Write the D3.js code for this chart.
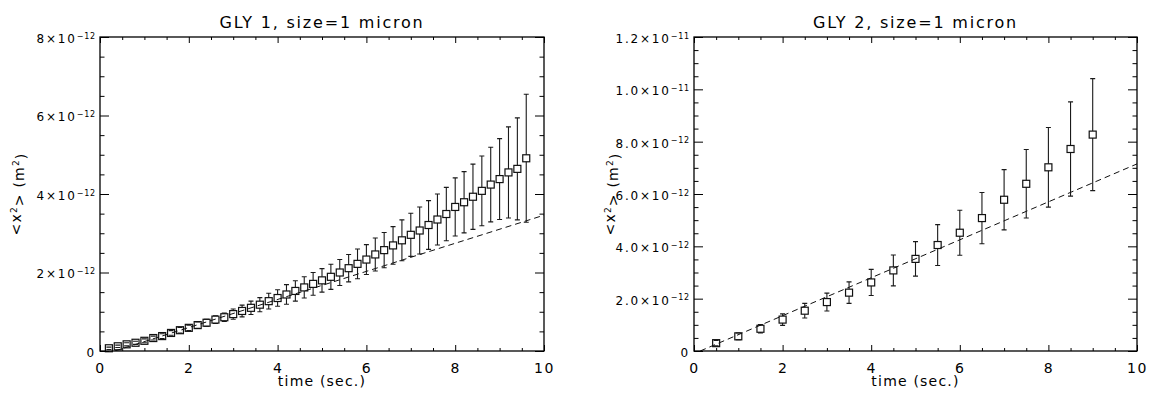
<!DOCTYPE html>
<html>
<head>
<meta charset="utf-8">
<script src="https://cdnjs.cloudflare.com/ajax/libs/d3/7.8.5/d3.min.js"></script>
<style>
  body { margin: 0; background: #fff; }
  text { font-family: "DejaVu Sans", sans-serif; fill: #000; }
</style>
</head>
<body>
<svg id="chart" width="1149" height="397"></svg>
<script>
// values of <x^2> are in units of 1e-12 m^2
const gly1Time = [0.2, 0.4, 0.6, 0.8, 1.0, 1.2, 1.4, 1.6, 1.8, 2.0, 2.2, 2.4, 2.6, 2.8, 3.0, 3.2,
  3.4, 3.6, 3.8, 4.0, 4.2, 4.4, 4.6, 4.8, 5.0, 5.2, 5.4, 5.6, 5.8, 6.0, 6.2, 6.4,
  6.6, 6.8, 7.0, 7.2, 7.4, 7.6, 7.8, 8.0, 8.2, 8.4, 8.6, 8.8, 9.0, 9.2, 9.4, 9.6]
const gly1Msd = [0.07, 0.12, 0.17, 0.21, 0.26, 0.33, 0.38, 0.46, 0.53, 0.59, 0.66, 0.72, 0.80, 0.86, 0.94, 1.02,
  1.10, 1.18, 1.27, 1.35, 1.44, 1.53, 1.62, 1.71, 1.80, 1.89, 2.00, 2.11, 2.22, 2.33, 2.46, 2.57,
  2.69, 2.82, 2.96, 3.07, 3.21, 3.35, 3.49, 3.67, 3.79, 3.93, 4.08, 4.24, 4.38, 4.55, 4.64, 4.91]
const gly1Err = [0.03, 0.03, 0.04, 0.04, 0.05, 0.05, 0.06, 0.06, 0.07, 0.07, 0.08, 0.09, 0.10, 0.11, 0.13, 0.15,
  0.17, 0.18, 0.20, 0.21, 0.25, 0.26, 0.27, 0.29, 0.30, 0.32, 0.33, 0.35, 0.38, 0.38, 0.42, 0.45,
  0.48, 0.52, 0.55, 0.60, 0.62, 0.65, 0.68, 0.74, 0.78, 0.83, 0.89, 0.95, 1.03, 1.16, 1.30, 1.63]
const gly1Fit = [[0.33, 0], [10, 3.46]]

const gly2Time = [0.5, 1.0, 1.5, 2.0, 2.5, 3.0, 3.5, 4.0, 4.5, 5.0, 5.5, 6.0, 6.5, 7.0, 7.5, 8.0, 8.5, 9.0]
const gly2Msd = [0.30, 0.56, 0.85, 1.20, 1.54, 1.87, 2.23, 2.62, 3.08, 3.52, 4.05, 4.52, 5.08, 5.78, 6.39, 7.02, 7.72, 8.27]
const gly2Err = [0.10, 0.13, 0.16, 0.22, 0.28, 0.34, 0.41, 0.50, 0.59, 0.66, 0.78, 0.86, 0.98, 1.15, 1.31, 1.52, 1.80, 2.14]
const gly2Fit = [[0.14, 0], [10, 7.15]]

const xTicks = [0, 2, 4, 6, 8, 10]
const gly1YTicks = [0, 2, 4, 6, 8]
const gly2YTicks = [0, 2, 4, 6, 8, 10, 12]

const svg = d3.select('#chart')
const top0 = 37, bottom0 = 351

function yLabel(v, panel) {
  if (v === 0) return ['0', null]
  if (panel === 1) return [v + '×10', '−12']
  if (v >= 10) return [(v / 10).toFixed(1) + '×10', '−11']
  return [v.toFixed(1) + '×10', '−12']
}

function drawPanel(o) {
  const x = d3.scaleLinear().domain([0, 10]).range([o.x0, o.x1])
  const y = d3.scaleLinear().domain([0, o.ymax]).range([bottom0, top0])
  const g = svg.append('g')

  g.append('clipPath').attr('id', 'clip' + o.n)
    .append('rect')
    .attr('x', o.x0).attr('y', top0)
    .attr('width', o.x1 - o.x0).attr('height', bottom0 - top0)

  // fitted line
  g.append('path')
    .attr('clip-path', 'url(#clip' + o.n + ')')
    .attr('d', d3.line()(o.fit.map(p => [x(p[0]), y(p[1])])))
    .style('fill', 'none')
    .style('stroke', '#111')
    .style('stroke-width', 1)
    .style('stroke-dasharray', '6,4')

  const pts = o.t.map((t, i) => ({t: t, v: o.v[i], e: o.e[i]}))
  const half = 3.5

  // error bars, drawn up to the edge of each square
  const eb = g.append('g').selectAll('g').data(pts).enter().append('g')
    .style('stroke', '#1a1a1a').style('stroke-width', 1.1)
  eb.append('path')
    .attr('d', d => {
      const cx = x(d.t), yt = y(d.v + d.e), yb = y(d.v - d.e), yc = y(d.v)
      let s = 'M' + (cx - 2.5) + ',' + yt + 'H' + (cx + 2.5)
      s += 'M' + (cx - 2.5) + ',' + yb + 'H' + (cx + 2.5)
      if (yc - half > yt) s += 'M' + cx + ',' + yt + 'V' + (yc - half)
      if (yc + half < yb) s += 'M' + cx + ',' + (yc + half) + 'V' + yb
      return s
    })
    .style('fill', 'none')

  g.append('g').selectAll('rect').data(pts).enter().append('rect')
    .attr('x', d => x(d.t) - half)
    .attr('y', d => y(d.v) - half)
    .attr('width', half * 2)
    .attr('height', half * 2)
    .style('fill', 'none')
    .style('stroke', '#111')
    .style('stroke-width', 1.2)

  // frame
  g.append('rect')
    .attr('x', o.x0).attr('y', top0)
    .attr('width', o.x1 - o.x0).attr('height', bottom0 - top0)
    .style('fill', 'none').style('stroke', '#000').style('stroke-width', 1.3)

  const xMinor = d3.range(0.5, 10, 0.5).filter(v => v % 2 !== 0)
  const yMinor = d3.range(0.5, o.ymax, 0.5).filter(v => v % 2 !== 0)
  const clean = a => { a.select('.domain').remove(); a.selectAll('line').style('stroke', '#000') }

  const xb = g.append('g').attr('transform', 'translate(0,' + bottom0 + ')')
    .call(d3.axisBottom(x).tickValues(xTicks).tickSize(-6).tickPadding(12).tickFormat(d => d))
    .call(clean)
  xb.selectAll('text').attr('font-size', 14).attr('font-family', null).attr('letter-spacing', 1.5)
  g.append('g').attr('transform', 'translate(0,' + bottom0 + ')')
    .call(d3.axisBottom(x).tickValues(xMinor).tickSize(-3).tickFormat('')).call(clean)
  g.append('g').attr('transform', 'translate(0,' + top0 + ')')
    .call(d3.axisTop(x).tickValues(xTicks).tickSize(-6).tickFormat('')).call(clean)
  g.append('g').attr('transform', 'translate(0,' + top0 + ')')
    .call(d3.axisTop(x).tickValues(xMinor).tickSize(-3).tickFormat('')).call(clean)

  const yl = g.append('g').attr('transform', 'translate(' + o.x0 + ',0)')
    .call(d3.axisLeft(y).tickValues(o.yTicks).tickSize(-9).tickPadding(4))
    .call(clean)
  yl.selectAll('.tick text').each(function(d) {
    const t = d3.select(this).text(null)
      .attr('font-size', 12).attr('font-family', null).attr('letter-spacing', 1.8)
      .attr('dy', '0.45em')
    const lab = yLabel(d, o.n)
    t.append('tspan').text(lab[0])
    if (lab[1]) t.append('tspan').attr('dy', '-0.55em').attr('font-size', 8).attr('letter-spacing', 0.8).text(lab[1])
  })
  g.append('g').attr('transform', 'translate(' + o.x0 + ',0)')
    .call(d3.axisLeft(y).tickValues(yMinor).tickSize(-4.5).tickFormat('')).call(clean)
  g.append('g').attr('transform', 'translate(' + o.x1 + ',0)')
    .call(d3.axisRight(y).tickValues(o.yTicks).tickSize(-9).tickFormat('')).call(clean)
  g.append('g').attr('transform', 'translate(' + o.x1 + ',0)')
    .call(d3.axisRight(y).tickValues(yMinor).tickSize(-4.5).tickFormat('')).call(clean)

  // titles
  const cx = (o.x0 + o.x1) / 2
  g.append('text')
    .attr('x', cx).attr('y', 28)
    .attr('text-anchor', 'middle')
    .attr('font-size', 16).attr('letter-spacing', 1.8)
    .text(o.title)
  g.append('text')
    .attr('x', cx).attr('y', 386)
    .attr('text-anchor', 'middle')
    .attr('font-size', 14).attr('letter-spacing', 1.2)
    .text('time (sec.)')

  const yt = g.append('text')
    .attr('transform', 'translate(' + (o.x0 - 79) + ',' + ((top0 + bottom0) / 2) + ') rotate(-90)')
    .attr('text-anchor', 'middle')
    .attr('font-size', 14).attr('letter-spacing', 1.2)
  yt.append('tspan').text('<x')
  yt.append('tspan').attr('dy', '-0.5em').attr('font-size', 9).text('2')
  yt.append('tspan').attr('dy', '0.5em').text('> (m')
  yt.append('tspan').attr('dy', '-0.5em').attr('font-size', 9).text('2')
  yt.append('tspan').attr('dy', '0.5em').text(')')
}

drawPanel({n: 1, x0: 100, x1: 544, ymax: 8, yTicks: gly1YTicks,
  t: gly1Time, v: gly1Msd, e: gly1Err, fit: gly1Fit, title: 'GLY 1, size=1 micron'})
drawPanel({n: 2, x0: 694, x1: 1137, ymax: 12, yTicks: gly2YTicks,
  t: gly2Time, v: gly2Msd, e: gly2Err, fit: gly2Fit, title: 'GLY 2, size=1 micron'})
</script>
</body>
</html>
